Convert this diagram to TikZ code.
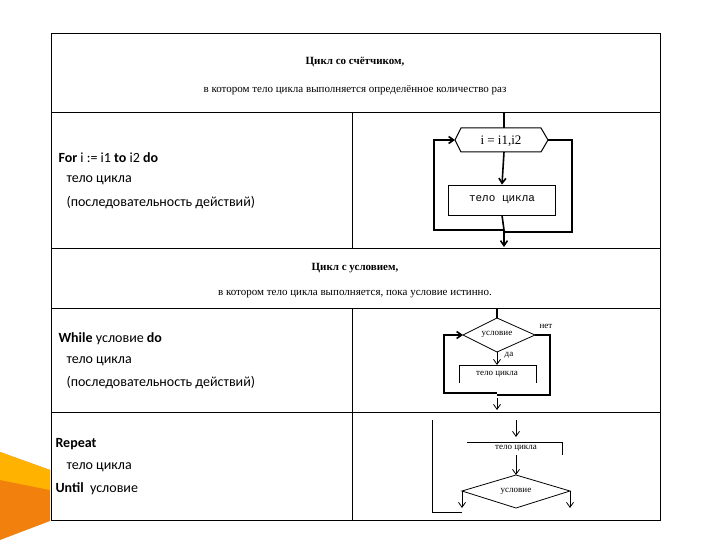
\documentclass[tikz,border=0pt]{standalone}
\usepackage{fontspec}
\setmainfont{Liberation Serif}
\setmonofont{Liberation Mono}
\newfontfamily\carlitofam{Carlito}
\usetikzlibrary{arrows.meta}
\begin{document}
\begin{tikzpicture}[x=1pt,y=-1pt,
  hd/.style={font=\fontsize{11}{13}\selectfont},
  lt/.style={font=\carlitofam\fontsize{14}{16}\selectfont,anchor=west},
  fl/.style={line width=1.6pt},
  th/.style={line width=0.8pt},
  ar/.style={-{Straight Barb[length=5pt,width=7pt]}},
  ft/.style={font=\fontsize{9}{11}\selectfont}]
\useasboundingbox (0,0) rectangle (720,540);
\fill[orange!80!brown] (0,452) -- (50,470) -- (50,521) -- (0,540) -- cycle;
\fill[orange!60!yellow] (0,452) -- (50,470) -- (50,490) -- (0,480) -- cycle;
\draw[th,fill=white] (51,33) rectangle (660,520);
\foreach \y in {112,248,308,412} \draw[th] (51,\y) -- (660,\y);
\draw[th] (352,112) -- (352,248);
\draw[th] (352,308) -- (352,520);
\node[hd,font=\bfseries\fontsize{11}{13}\selectfont] (h1) at (355,62) {Цикл со счётчиком,};
\node[hd] (h2) at (355,90) {в котором тело цикла выполняется определённое количество раз};
\node[hd,font=\bfseries\fontsize{11}{13}\selectfont] (h3) at (355,268) {Цикл с условием,};
\node[hd] (h4) at (355,294) {в котором тело цикла выполняется, пока условие истинно.};
\node[lt] (a1) at (55,158) {\textbf{For} i := i1 \textbf{to} i2 \textbf{do}};
\node[lt] (a2) at (63,180) {тело цикла};
\node[lt] (a3) at (63,203) {(последовательность действий)};
\node[lt] (b1) at (55,339) {\textbf{While} условие \textbf{do}};
\node[lt] (b2) at (63,361) {тело цикла};
\node[lt] (b3) at (63,383) {(последовательность действий)};
\node[lt] (c1) at (52,444) {\textbf{Repeat}};
\node[lt] (c2) at (63,467) {тело цикла};
\node[lt] (c3) at (52,489) {\textbf{Until}\ \ условие};
% flowchart 1
\draw[th,line width=1pt] (461,128) -- (541,128) -- (548,140) -- (541,152) -- (461,152) -- (455,140) -- cycle;
\node[font=\fontsize{13}{15}\selectfont] (hx) at (501,141) {i = i1,i2};
\coordinate (hl) at (455,140); \coordinate (hr) at (548,140);
\node[draw,th,minimum width=107pt,minimum height=30pt,font=\ttfamily\fontsize{11}{13}\selectfont] (bx) at (502,200) {тело цикла};
\draw[fl] (504,112) -- (504,128);
\draw[fl,ar] (504,152) -- (bx.north);
\draw[fl,ar] (bx.south) -- (504,230) -- (434,230) -- (434,140) -- (hl);
\draw[fl,ar] (hr) -- (572,140) -- (572,232) -- (504,232) -- (504,247);
% flowchart 2
\coordinate (dt) at (497,318); \coordinate (dl) at (463,335); \coordinate (dr) at (535,335); \coordinate (db) at (497,352);
\draw[th] (dt) -- (dr) -- (db) -- (dl) -- cycle;
\node[ft] (d2) at (497,334) {условие};
\node[ft] (net) at (546,326) {нет};
\node[ft] (da) at (509,355) {да};
\draw[fl] (497,308) -- (dt);
\draw[th,ar] (db) -- (497,365);
\draw[th] (459,383) -- (459,365) -- (536,365) -- (536,383);
\node[ft] (b2t) at (497,374) {тело цикла};
\draw[fl] (dr) -- (550,335) -- (550,395) -- (497,395);
\draw[fl,ar] (497,393) -- (444,393) -- (444,335) -- (dl);
\draw[th,ar] (497,398) -- (497,410);
% flowchart 3
\coordinate (et) at (516,475); \coordinate (el) at (462,491); \coordinate (er) at (570,491); \coordinate (eb) at (516,508);
\draw[th] (et) -- (er) -- (eb) -- (el) -- cycle;
\node[ft] (e2) at (516,491) {условие};
\draw[th,ar] (516,420) -- (516,437);
\draw[th] (467,442) -- (562,442) -- (562,455);
\node[ft] (e3) at (516,448) {тело цикла};
\draw[th,ar] (516,455) -- (et);
\draw[th,ar] (el) -- (462,508);
\draw[th,ar] (er) -- (570,508);
\draw[th] (432,420) -- (432,512) -- (462,512);
\end{tikzpicture}
\end{document}
